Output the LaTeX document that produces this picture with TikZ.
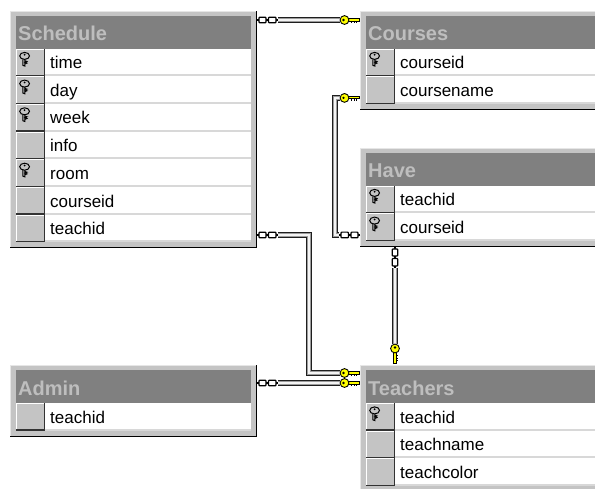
\documentclass[tikz,border=0pt]{standalone}
\usepackage{fontspec}
\setmainfont{Liberation Sans}
\usetikzlibrary{calc}
\definecolor{frm}{HTML}{C4C4C4}
\definecolor{ttlgray}{HTML}{808080}
\definecolor{ttltext}{HTML}{BEBEBE}
\definecolor{seplight}{HTML}{D8D8D8}
\definecolor{edgelightc}{HTML}{E6E6E6}
\definecolor{keyyellow}{HTML}{FFFF00}
\definecolor{pipedark}{HTML}{1E1E1E}
\definecolor{pipemid}{HTML}{9C9C9C}
\definecolor{pipelight}{HTML}{F4F4F4}
\tikzset{
  tframe/.style={inner sep=0pt, outer sep=0pt, anchor=north west, fill=frm},
  tbar/.style={inner sep=0pt, outer sep=0pt, anchor=north west, fill=ttlgray, minimum height=33pt},
  ttext/.style={inner sep=0pt, anchor=base west, text=ttltext, font=\fontsize{20}{24}\selectfont\bfseries},
  rtext/.style={inner sep=0pt, anchor=base west, text=black, font=\fontsize{17}{20}\selectfont},
  edgelight/.style={draw=edgelightc, line width=1pt},
  edgedark/.style={draw=black, line width=1.2pt},
  pipeA/.style={draw=pipedark, line width=5.6pt},
  pipeB/.style={draw=pipemid, line width=4pt, shift={(-0.5,-0.5)}},
  pipeC/.style={draw=pipelight, line width=1.4pt, shift={(-1.1,-1.1)}},
  keyglyph/.pic={
    \draw[line width=1pt] (8.6,7.4) ellipse [x radius=4.9pt, y radius=3.5pt];
    \fill (8.6,6.2) circle [radius=1pt];
    \draw[line width=1pt] (6.8,10.9) -- (6.8,16.8) -- (8.9,17.6) -- (8.9,10.9);
    \draw[line width=0.9pt] (8.9,12.2) -- (11,12.9) -- (8.9,13.8) -- (11,14.6) -- (8.9,15.5);
  },
  chainlink/.pic={
    \draw[black, line width=1.8pt] (0,0) -- (21,0);
    \draw[black, fill=white, line width=1.2pt, rounded corners=0.8pt] (2,-2.8) rectangle (9,2.8);
    \draw[black, fill=white, line width=1.2pt, rounded corners=0.8pt] (11.5,-2.8) rectangle (19,2.8);
  },
  ykey/.pic={
    \draw[black, fill=keyyellow, line width=0.8pt] (8,-1.8) rectangle (19,0.9);
    \draw[black, line width=0.9pt] (11.5,0.9) -- (11.5,3.2) (14,0.9) -- (14,2.8) (16.5,0.9) -- (16.5,3.2);
    \draw[black, fill=keyyellow, line width=0.9pt] (4.5,0) circle [radius=4.4pt];
    \fill[black] (3.5,0) circle [radius=1.3pt];
  }
}
\newcommand{\pipe}[1]{\draw[pipeA] #1; \draw[pipeB] #1; \draw[pipeC] #1;}
% #1 id, #2 left, #3 top, #4 right, #5 title, #6 nrows, #7 rows k/label
\newcommand{\dbtable}[7]{%
  \pgfmathsetmacro{\dbB}{#3+44+#6*27.7}%
  \pgfmathsetmacro{\dbW}{#4-#2}%
  \pgfmathsetmacro{\dbH}{\dbB-#3}%
  \pgfmathsetmacro{\dbIW}{\dbW-12}%
  \node[tframe, minimum width=\dbW pt, minimum height=\dbH pt] (#1) at (#2,#3) {};
  \draw[edgelight] (#2+0.5,\dbB) -- (#2+0.5,#3+0.5) -- (#4,#3+0.5);
  \draw[edgedark] (#2,\dbB-0.6) -- (#4-0.6,\dbB-0.6) -- (#4-0.6,#3);
  \node[tbar, minimum width=\dbIW pt] (#1-title) at (#2+6,#3+5) {};
  \node[ttext] (#1-name) at (#2+8,#3+30) {#5};
  \foreach \k/\lab [count=\i from 0] in {#7} {
    \pgfmathsetmacro{\dbrt}{#3+38+\i*27.7}
    \fill[white] (#2+35,\dbrt) rectangle (#4-6,\dbrt+27.7);
    \fill[seplight] (#2+35,\dbrt+25.6) rectangle (#4-6,\dbrt+27.7);
    \fill[frm] (#2+6,\dbrt) rectangle (#2+35,\dbrt+27.7);
    \draw[white, line width=1pt] (#2+6.5,\dbrt+27) -- (#2+6.5,\dbrt+0.5) -- (#2+34.5,\dbrt+0.5);
    \draw[black!80, line width=1.3pt] (#2+6,\dbrt+27) -- (#2+34.4,\dbrt+27) -- (#2+34.4,\dbrt);
    \node[rtext] (#1-\i) at (#2+40,\dbrt+20) {\lab};
    \ifnum\k=1 \pic at (#2+6,\dbrt) {keyglyph};\fi
  }
}
\begin{document}
\begin{tikzpicture}[x=1pt,y=-1pt]
\useasboundingbox[fill=white] (0,0) rectangle (595,488);

\dbtable{schedule}{10}{10.5}{257}{Schedule}{7}{1/time,1/day,1/week,0/info,1/room,0/courseid,0/teachid}
\dbtable{courses}{360}{10.5}{612}{Courses}{2}{1/courseid,0/coursename}
\dbtable{have}{360}{147.5}{612}{Have}{2}{1/teachid,1/courseid}
\dbtable{admin}{10}{365}{257}{Admin}{1}{0/teachid}
\dbtable{teachers}{360}{365}{612}{Teachers}{3}{1/teachid,0/teachname,0/teachcolor}

% connector endpoints
\coordinate (A0) at ($(schedule.north east)+(0,9.5)$);
\coordinate (A1) at ($(courses.north west)+(-20,9.5)$);
\coordinate (B0) at ($(schedule.south east)+(0,-13.4)$);
\coordinate (B1) at ($(teachers.north west)+(-20,8)$);
\coordinate (E0) at ($(admin.north east)+(0,18)$);
\coordinate (E1) at ($(teachers.north west)+(-20,18)$);
\coordinate (C0) at ($(have.south west)+(0,-12)$);
\coordinate (C1) at ($(courses.south west)+(-20,-12)$);
\coordinate (D0) at ($(have.south west)+(35,0)$);
\coordinate (D1) at ($(teachers.north west)+(35,-21)$);

% Schedule -> Courses
\pipe{($(A0)+(21,0)$) -- (A1)}
\pic at (A0) {chainlink};
\pic at (A1) {ykey};
% Schedule -> Teachers
\pipe{($(B0)+(21,0)$) -- ++(31,0) |- (B1)}
\pic at (B0) {chainlink};
% Admin -> Teachers
\pipe{($(E0)+(21,0)$) -- (E1)}
\pic at (E0) {chainlink};
\pic at (B1) {ykey};
\pic at (E1) {ykey};
% Have -> Courses
\pipe{($(C0)+(-21,0)$) -- ++(-4,0) |- (C1)}
\pic[rotate=180] at (C0) {chainlink};
\pic at (C1) {ykey};
% Have -> Teachers
\pipe{($(D0)+(0,21)$) -- (D1)}
\pic[rotate=-90] at (D0) {chainlink};
\pic[rotate=-90, yscale=-1] at (D1) {ykey};
\end{tikzpicture}
\end{document}
